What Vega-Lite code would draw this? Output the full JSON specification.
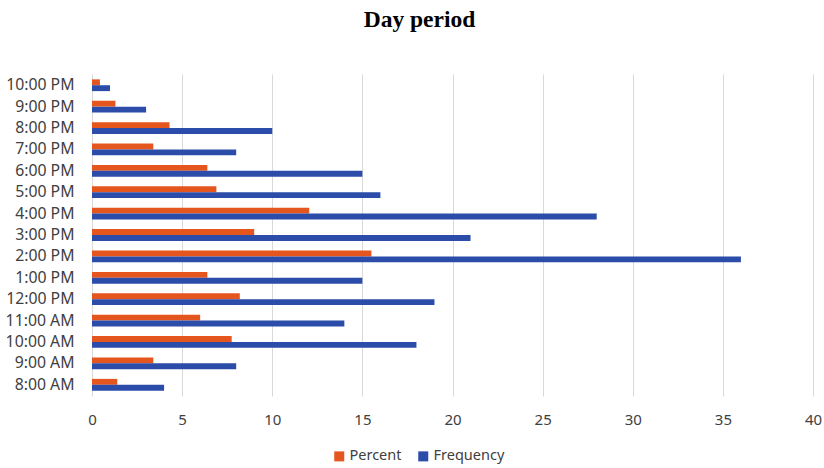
{
  "$schema": "https://vega.github.io/schema/vega-lite/v6.json",
  "width": 721,
  "height": 322,
  "autosize": "none",
  "padding": {"left": 92, "top": 74, "right": 11, "bottom": 72},
  "background": "white",
  "title": {
    "text": "Day period",
    "font": "Liberation Serif",
    "fontSize": 23.5,
    "fontWeight": "bold",
    "color": "#000000",
    "offset": 43,
    "dx": -33
  },
  "data": {
    "values": [
      {"time": "10:00 PM", "series": "Percent", "value": 0.44},
      {"time": "10:00 PM", "series": "Frequency", "value": 1},
      {"time": "9:00 PM", "series": "Percent", "value": 1.3},
      {"time": "9:00 PM", "series": "Frequency", "value": 3},
      {"time": "8:00 PM", "series": "Percent", "value": 4.3},
      {"time": "8:00 PM", "series": "Frequency", "value": 10},
      {"time": "7:00 PM", "series": "Percent", "value": 3.4},
      {"time": "7:00 PM", "series": "Frequency", "value": 8},
      {"time": "6:00 PM", "series": "Percent", "value": 6.4},
      {"time": "6:00 PM", "series": "Frequency", "value": 15},
      {"time": "5:00 PM", "series": "Percent", "value": 6.9},
      {"time": "5:00 PM", "series": "Frequency", "value": 16},
      {"time": "4:00 PM", "series": "Percent", "value": 12.05},
      {"time": "4:00 PM", "series": "Frequency", "value": 28},
      {"time": "3:00 PM", "series": "Percent", "value": 9.0},
      {"time": "3:00 PM", "series": "Frequency", "value": 21},
      {"time": "2:00 PM", "series": "Percent", "value": 15.5},
      {"time": "2:00 PM", "series": "Frequency", "value": 36},
      {"time": "1:00 PM", "series": "Percent", "value": 6.4},
      {"time": "1:00 PM", "series": "Frequency", "value": 15},
      {"time": "12:00 PM", "series": "Percent", "value": 8.2},
      {"time": "12:00 PM", "series": "Frequency", "value": 19},
      {"time": "11:00 AM", "series": "Percent", "value": 6.0},
      {"time": "11:00 AM", "series": "Frequency", "value": 14},
      {"time": "10:00 AM", "series": "Percent", "value": 7.75},
      {"time": "10:00 AM", "series": "Frequency", "value": 18},
      {"time": "9:00 AM", "series": "Percent", "value": 3.4},
      {"time": "9:00 AM", "series": "Frequency", "value": 8},
      {"time": "8:00 AM", "series": "Percent", "value": 1.4},
      {"time": "8:00 AM", "series": "Frequency", "value": 4}
    ]
  },
  "mark": {"type": "bar"},
  "encoding": {
    "y": {
      "field": "time",
      "type": "nominal",
      "sort": ["10:00 PM", "9:00 PM", "8:00 PM", "7:00 PM", "6:00 PM", "5:00 PM", "4:00 PM", "3:00 PM", "2:00 PM", "1:00 PM", "12:00 PM", "11:00 AM", "10:00 AM", "9:00 AM", "8:00 AM"],
      "scale": {"paddingInner": 0.45, "paddingOuter": 0.25},
      "axis": {
        "title": null,
        "domain": false,
        "ticks": false,
        "labelPadding": 18,
        "labelFont": "Noto Sans",
        "labelFontSize": 15.8,
        "labelColor": "#404040"
      }
    },
    "yOffset": {
      "field": "series",
      "type": "nominal",
      "sort": ["Percent", "Frequency"],
      "scale": {"paddingInner": 0, "paddingOuter": 0}
    },
    "x": {
      "field": "value",
      "type": "quantitative",
      "scale": {"domain": [0, 40], "nice": false},
      "axis": {
        "title": null,
        "values": [0, 5, 10, 15, 20, 25, 30, 35, 40],
        "domain": false,
        "ticks": false,
        "labelFlush": false,
        "labelPadding": 16,
        "labelFont": "Noto Sans",
        "labelFontSize": 15,
        "labelColor": "#404040",
        "grid": true,
        "gridColor": "#d9d9d9",
        "gridWidth": 1
      }
    },
    "color": {
      "field": "series",
      "type": "nominal",
      "scale": {"domain": ["Percent", "Frequency"], "range": ["#E5561E", "#2B4CA9"]},
      "legend": {
        "title": null,
        "orient": "none",
        "direction": "horizontal",
        "legendX": 240,
        "legendY": 375,
        "symbolType": "square",
        "symbolSize": 100,
        "symbolStrokeWidth": 0,
        "labelFont": "Noto Sans",
        "labelFontSize": 14.5,
        "labelColor": "#404040",
        "columnPadding": 14,
        "labelOffset": 3
      }
    }
  },
  "config": {"view": {"stroke": null}}
}
